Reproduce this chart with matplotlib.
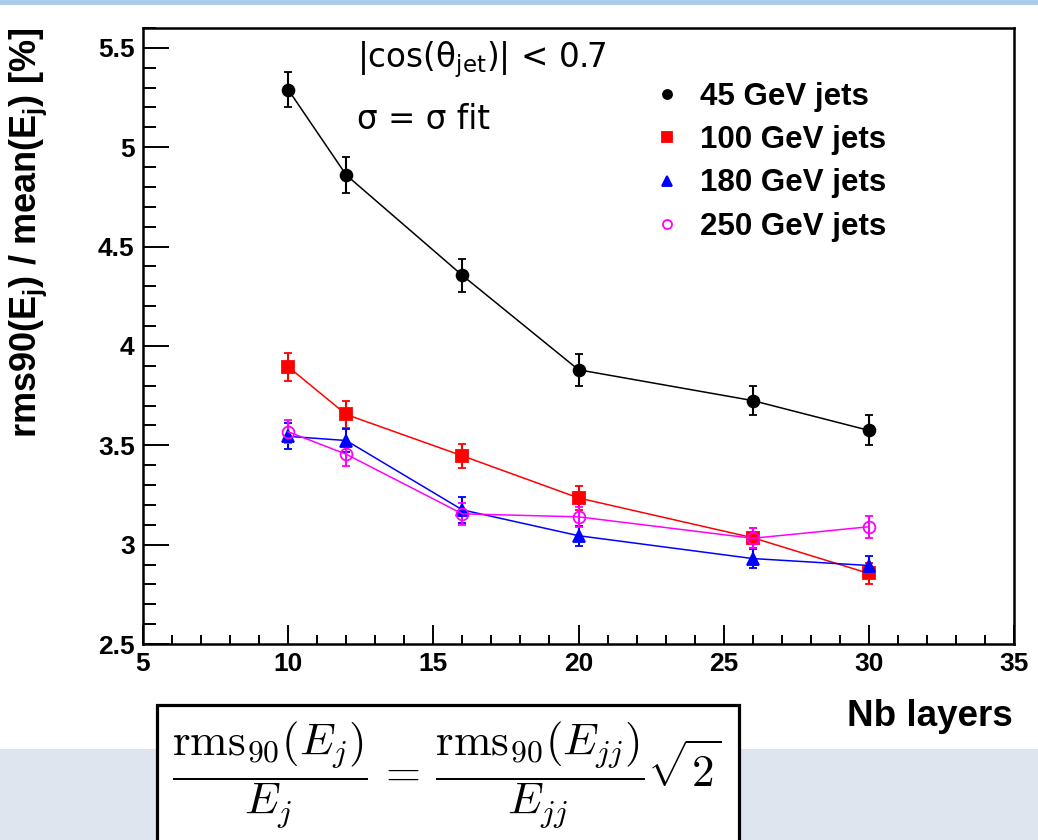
import numpy as np
import matplotlib
matplotlib.use("Agg")
import matplotlib.pyplot as plt
from matplotlib.lines import Line2D
from matplotlib.patches import Rectangle
from matplotlib.ticker import MultipleLocator

# Energy resolution vs number of layers, for several jet energies
layers = [10, 12, 16, 20, 26, 30]

res_45 = [5.29, 4.86, 4.355, 3.88, 3.725, 3.575]
err_45 = [0.09, 0.09, 0.085, 0.08, 0.075, 0.075]

res_100 = [3.895, 3.655, 3.447, 3.235, 3.035, 2.855]
err_100 = [0.07, 0.07, 0.06, 0.06, 0.05, 0.055]

res_180 = [3.545, 3.524, 3.175, 3.045, 2.93, 2.895]
err_180 = [0.065, 0.06, 0.065, 0.05, 0.05, 0.05]

res_250 = [3.568, 3.455, 3.155, 3.14, 3.032, 3.09]
err_250 = [0.058, 0.057, 0.057, 0.05, 0.05, 0.055]

labels = ["45 GeV jets", "100 GeV jets", "180 GeV jets", "250 GeV jets"]

plt.rcParams['font.family'] = ['Liberation Sans', 'DejaVu Sans']
plt.rcParams['mathtext.fontset'] = 'custom'
plt.rcParams['mathtext.rm'] = 'Liberation Sans:bold'
plt.rcParams['mathtext.bf'] = 'Liberation Sans:bold'
plt.rcParams['mathtext.it'] = 'Liberation Sans:bold'

fig = plt.figure(figsize=(10.38, 8.40), dpi=100)
ax = fig.add_axes([143/1038, 1 - 644/840, (1014 - 143)/1038, (644 - 28)/840])

# background bands
fig.patches.append(Rectangle((0, 1 - 5/840), 1, 5/840, transform=fig.transFigure,
                             facecolor='#abcbeb', edgecolor='none', zorder=-10))
fig.patches.append(Rectangle((0, 0), 1, (840 - 749)/840, transform=fig.transFigure,
                             facecolor='#dfe5ef', edgecolor='none', zorder=-10))

series = [
    (res_45, err_45, 'black', 'o', 'black'),
    (res_100, err_100, 'red', 's', 'red'),
    (res_180, err_180, 'blue', '^', 'blue'),
    (res_250, err_250, '#ff00ff', 'o', 'none'),
]
handles = []
for (y, e, c, m, fc), lab in zip(series, labels):
    ax.errorbar(layers, y, yerr=e, color=c, marker=m, markersize=8.5 if m != '^' else 8,
                markerfacecolor=fc, markeredgecolor=c, markeredgewidth=1.3,
                linewidth=1.1, elinewidth=1.5, capsize=3, capthick=1.5)
    handles.append(Line2D([], [], linestyle='none', marker=m, color=c,
                          markerfacecolor=fc, markeredgecolor=c,
                          markersize=6.5, markeredgewidth=1.3))

ax.set_xlim(5, 35)
ax.set_ylim(2.5, 5.6)
ax.xaxis.set_major_locator(MultipleLocator(5))
ax.xaxis.set_minor_locator(MultipleLocator(1))
ax.yaxis.set_major_locator(MultipleLocator(0.5))
ax.yaxis.set_minor_locator(MultipleLocator(0.1))
ax.tick_params(axis='both', which='both', direction='in', top=False, right=False,
               width=1.4)
ax.tick_params(axis='y', which='major', length=18.5, pad=6, labelsize=19)
ax.tick_params(axis='y', which='minor', length=9.4)
ax.tick_params(axis='x', which='major', length=13.7, pad=6, labelsize=19)
ax.tick_params(axis='x', which='minor', length=6.5)
ax.set_yticks([2.5, 3, 3.5, 4, 4.5, 5, 5.5])
ax.set_yticklabels(['2.5', '3', '3.5', '4', '4.5', '5', '5.5'])
for lab in ax.get_xticklabels() + ax.get_yticklabels():
    lab.set_fontweight('bold')
for sp in ax.spines.values():
    sp.set_linewidth(1.8)

fig.text(28/1038, 1 - 28/840, r"rms90(E$_\mathrm{j}$) / mean(E$_\mathrm{j}$) [%]",
         rotation=90, ha='center', va='top', fontsize=26, fontweight='bold')

fig.text(1013/1038, 1 - 717/840, "Nb layers", ha='right', va='center',
         fontsize=26.5, fontweight='bold')

ax.text(0.2457, 0.948, r"|cos(θ$_{\mathrm{jet}}$)| < 0.7", transform=ax.transAxes,
        ha='left', va='center', fontsize=23.5, family='DejaVu Sans',
        math_fontfamily='dejavusans')
ax.text(0.2457, 0.852, "σ = σ fit", transform=ax.transAxes,
        ha='left', va='center', fontsize=23.5, family='DejaVu Sans')

ax.legend(handles, labels, loc='upper left', bbox_to_anchor=(0.584, 0.912),
          frameon=False, borderpad=0, borderaxespad=0, handlelength=1.0,
          handletextpad=0.55, labelspacing=0.42,
          prop={'weight': 'bold', 'size': 22.5})

# formula box
fig.patches.append(Rectangle((157/1038, -0.01), (739 - 157)/1038, 0.01 + (840 - 705)/840,
                             transform=fig.transFigure, facecolor='white',
                             edgecolor='black', linewidth=2.3, zorder=-5))
fig.text(447/1038, 1 - 775/840,
         r"$\dfrac{\mathrm{rms}_{90}(E_j)}{E_j}\,=\,\dfrac{\mathrm{rms}_{90}(E_{jj})}{E_{jj}}\sqrt{2}$",
         ha='center', va='center', fontsize=32.5, math_fontfamily='cm')

fig.savefig("out.png", dpi=100)
